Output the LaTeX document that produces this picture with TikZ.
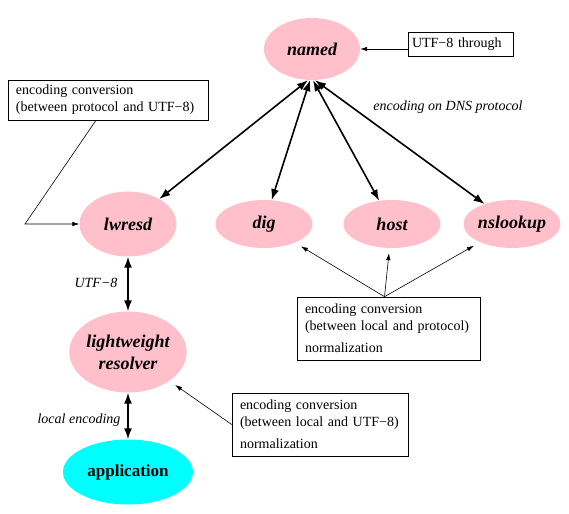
\documentclass[tikz,border=0pt]{standalone}
\usepackage{fontspec}
\setmainfont{Liberation Serif}
\usetikzlibrary{positioning,shapes.geometric,arrows.meta}
\definecolor{progpink}{RGB}{255,192,203}
\definecolor{appcyan}{RGB}{0,255,255}

\begin{document}
\begin{tikzpicture}[x=1pt,y=-1pt,
    prog/.style={ellipse,fill=progpink,inner sep=0pt,align=center,font=\fontsize{18}{22}\selectfont\bfseries\itshape},
    note/.style={draw,line width=0.6pt,inner xsep=8pt,inner ysep=0pt,align=left,font=\fontsize{14}{17}\selectfont},
    tag/.style={font=\fontsize{14}{17}\selectfont\itshape},
    dns/.style={line width=1.6pt,{Latex[length=11pt,width=8pt]}-{Latex[length=11pt,width=8pt]}},
    conv/.style={line width=0.6pt,-{Latex[length=7pt,width=4.5pt]}}]
  \useasboundingbox (0,0) rectangle (569,513);

  % programs
  \node[prog,minimum width=96pt,minimum height=62pt](named) at (312,49){named};
  \node[prog,minimum width=97pt,minimum height=65pt](lwresd) at (128,224){lwresd};
  \node[prog,minimum width=97pt,minimum height=48pt](dig) at (264,224){dig};
  \node[prog,minimum width=97pt,minimum height=48pt](host) at (392,224){host};
  \node[prog,minimum width=97pt,minimum height=48pt](nslookup) at (512,224){nslookup};
  \node[prog,minimum width=113pt,minimum height=81pt](lr) at (128,352){lightweight\\resolver};
  \node[ellipse,fill=appcyan,inner sep=0pt,minimum width=130pt,minimum height=65pt,
    font=\fontsize{17}{20}\selectfont\bfseries](app) at (128,472){application};

  % notes
  \node[note,inner xsep=4pt,text width=97pt,minimum height=24pt](through) at (460.5,44){UTF−8 through};
  \node[note,text width=184pt,minimum height=40pt](protoutf) at (108,100)
    {encoding conversion\\(between protocol and UTF−8)};
  \node[note,text width=167pt,minimum height=63pt](localproto) at (388.5,328.5)
    {encoding conversion\\(between local and protocol)\\[5pt]normalization};
  \node[note,text width=160pt,minimum height=63pt](localutf) at (320,424.5)
    {encoding conversion\\(between local and UTF−8)\\[5pt]normalization};

  % labels
  \node[tag](dnslabel) at (448,107){encoding on DNS protocol};
  \node[tag](utflabel) at (96,283){UTF−8};
  \node[tag](locallabel) at (79,420){local encoding};

  % connections
  \draw[dns] ([xshift=-4pt]named.south) -- (lwresd);
  \draw[dns] ([xshift=-2pt]named.south) -- (dig);
  \draw[dns] ([xshift=1pt]named.south) -- (host);
  \draw[dns] ([xshift=3pt]named.south) -- (nslookup);
  \draw[dns] (lwresd) -- (lr);
  \draw[dns] (lr) -- (app);

  \coordinate (bend) at (25,224);
  \draw[conv] (through.west |- named.east) -- (named.east);
  \draw[conv] ([xshift=-12pt]protoutf.south) -- (bend) -- (lwresd);
  \draw[conv,shorten >=7pt] ([xshift=-4pt]localproto.north) -- (dig);
  \draw[conv,shorten >=5pt] ([xshift=-4pt]localproto.north) -- (host);
  \draw[conv,shorten >=7pt] ([xshift=-4pt]localproto.north) -- (nslookup);
  \draw[conv,shorten >=7pt] (localutf.west) -- (lr);
\end{tikzpicture}
\end{document}
